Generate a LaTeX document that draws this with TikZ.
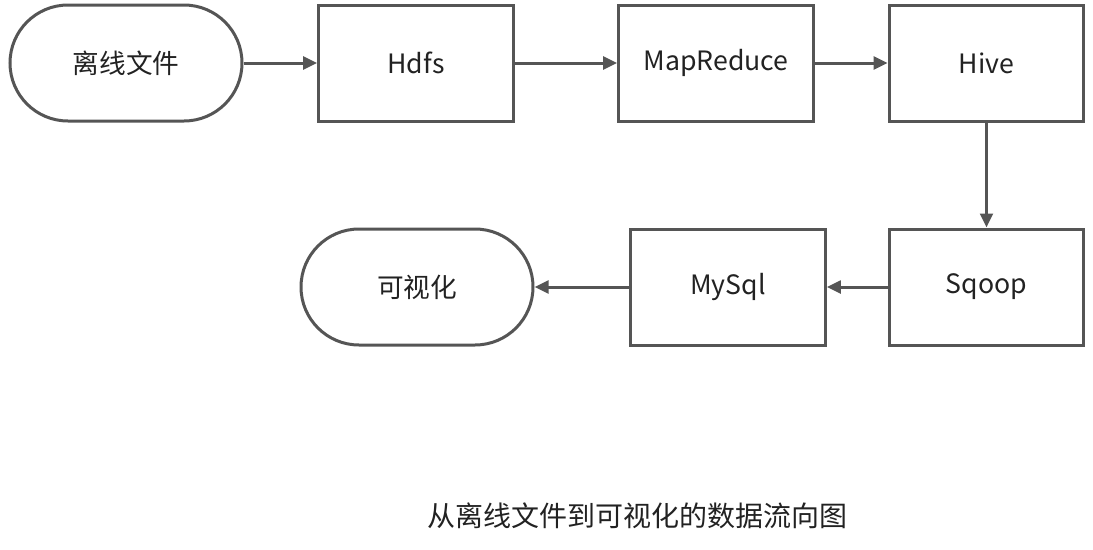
\documentclass[tikz,border=0pt]{standalone}
\usepackage{fontspec}
\setmainfont{Noto Sans CJK SC}
\usetikzlibrary{arrows.meta}
\definecolor{ln}{HTML}{555555}
\definecolor{tx}{HTML}{222222}
\tikzset{
  box/.style={draw=ln, line width=2.25pt, minimum width=146pt, minimum height=87pt, inner sep=0pt, text=tx, font=\fontsize{20}{24}\selectfont},
  term/.style={box, minimum width=174pt, rounded corners=43.5pt},
  flow/.style={draw=ln, line width=2.25pt, -{Triangle[length=10.5pt,width=9.5pt]}}
}
\begin{document}
\begin{tikzpicture}[x=0.75pt,y=-0.75pt]
\useasboundingbox (0,0) rectangle (1093,550);
\node[term] (src) at (126,63) {离线文件};
\node[box] (hdfs) at (416,63) {Hdfs};
\node[box] (mr) at (716,63) {MapReduce};
\node[box] (hive) at (986.5,63) {Hive};
\node[box] (sqoop) at (986.5,287) {Sqoop};
\node[box] (mysql) at (728,287) {MySql};
\node[term] (vis) at (417,287) {可视化};
\node[text=tx, font=\fontsize{21}{25}\selectfont] (cap) at (637,516) {从离线文件到可视化的数据流向图};
\draw[flow] (src) -- (hdfs);
\draw[flow] (hdfs) -- (mr);
\draw[flow] (mr) -- (hive);
\draw[flow] (hive) -- (sqoop);
\draw[flow] (sqoop) -- (mysql);
\draw[flow] (mysql) -- (vis);
\end{tikzpicture}
\end{document}
